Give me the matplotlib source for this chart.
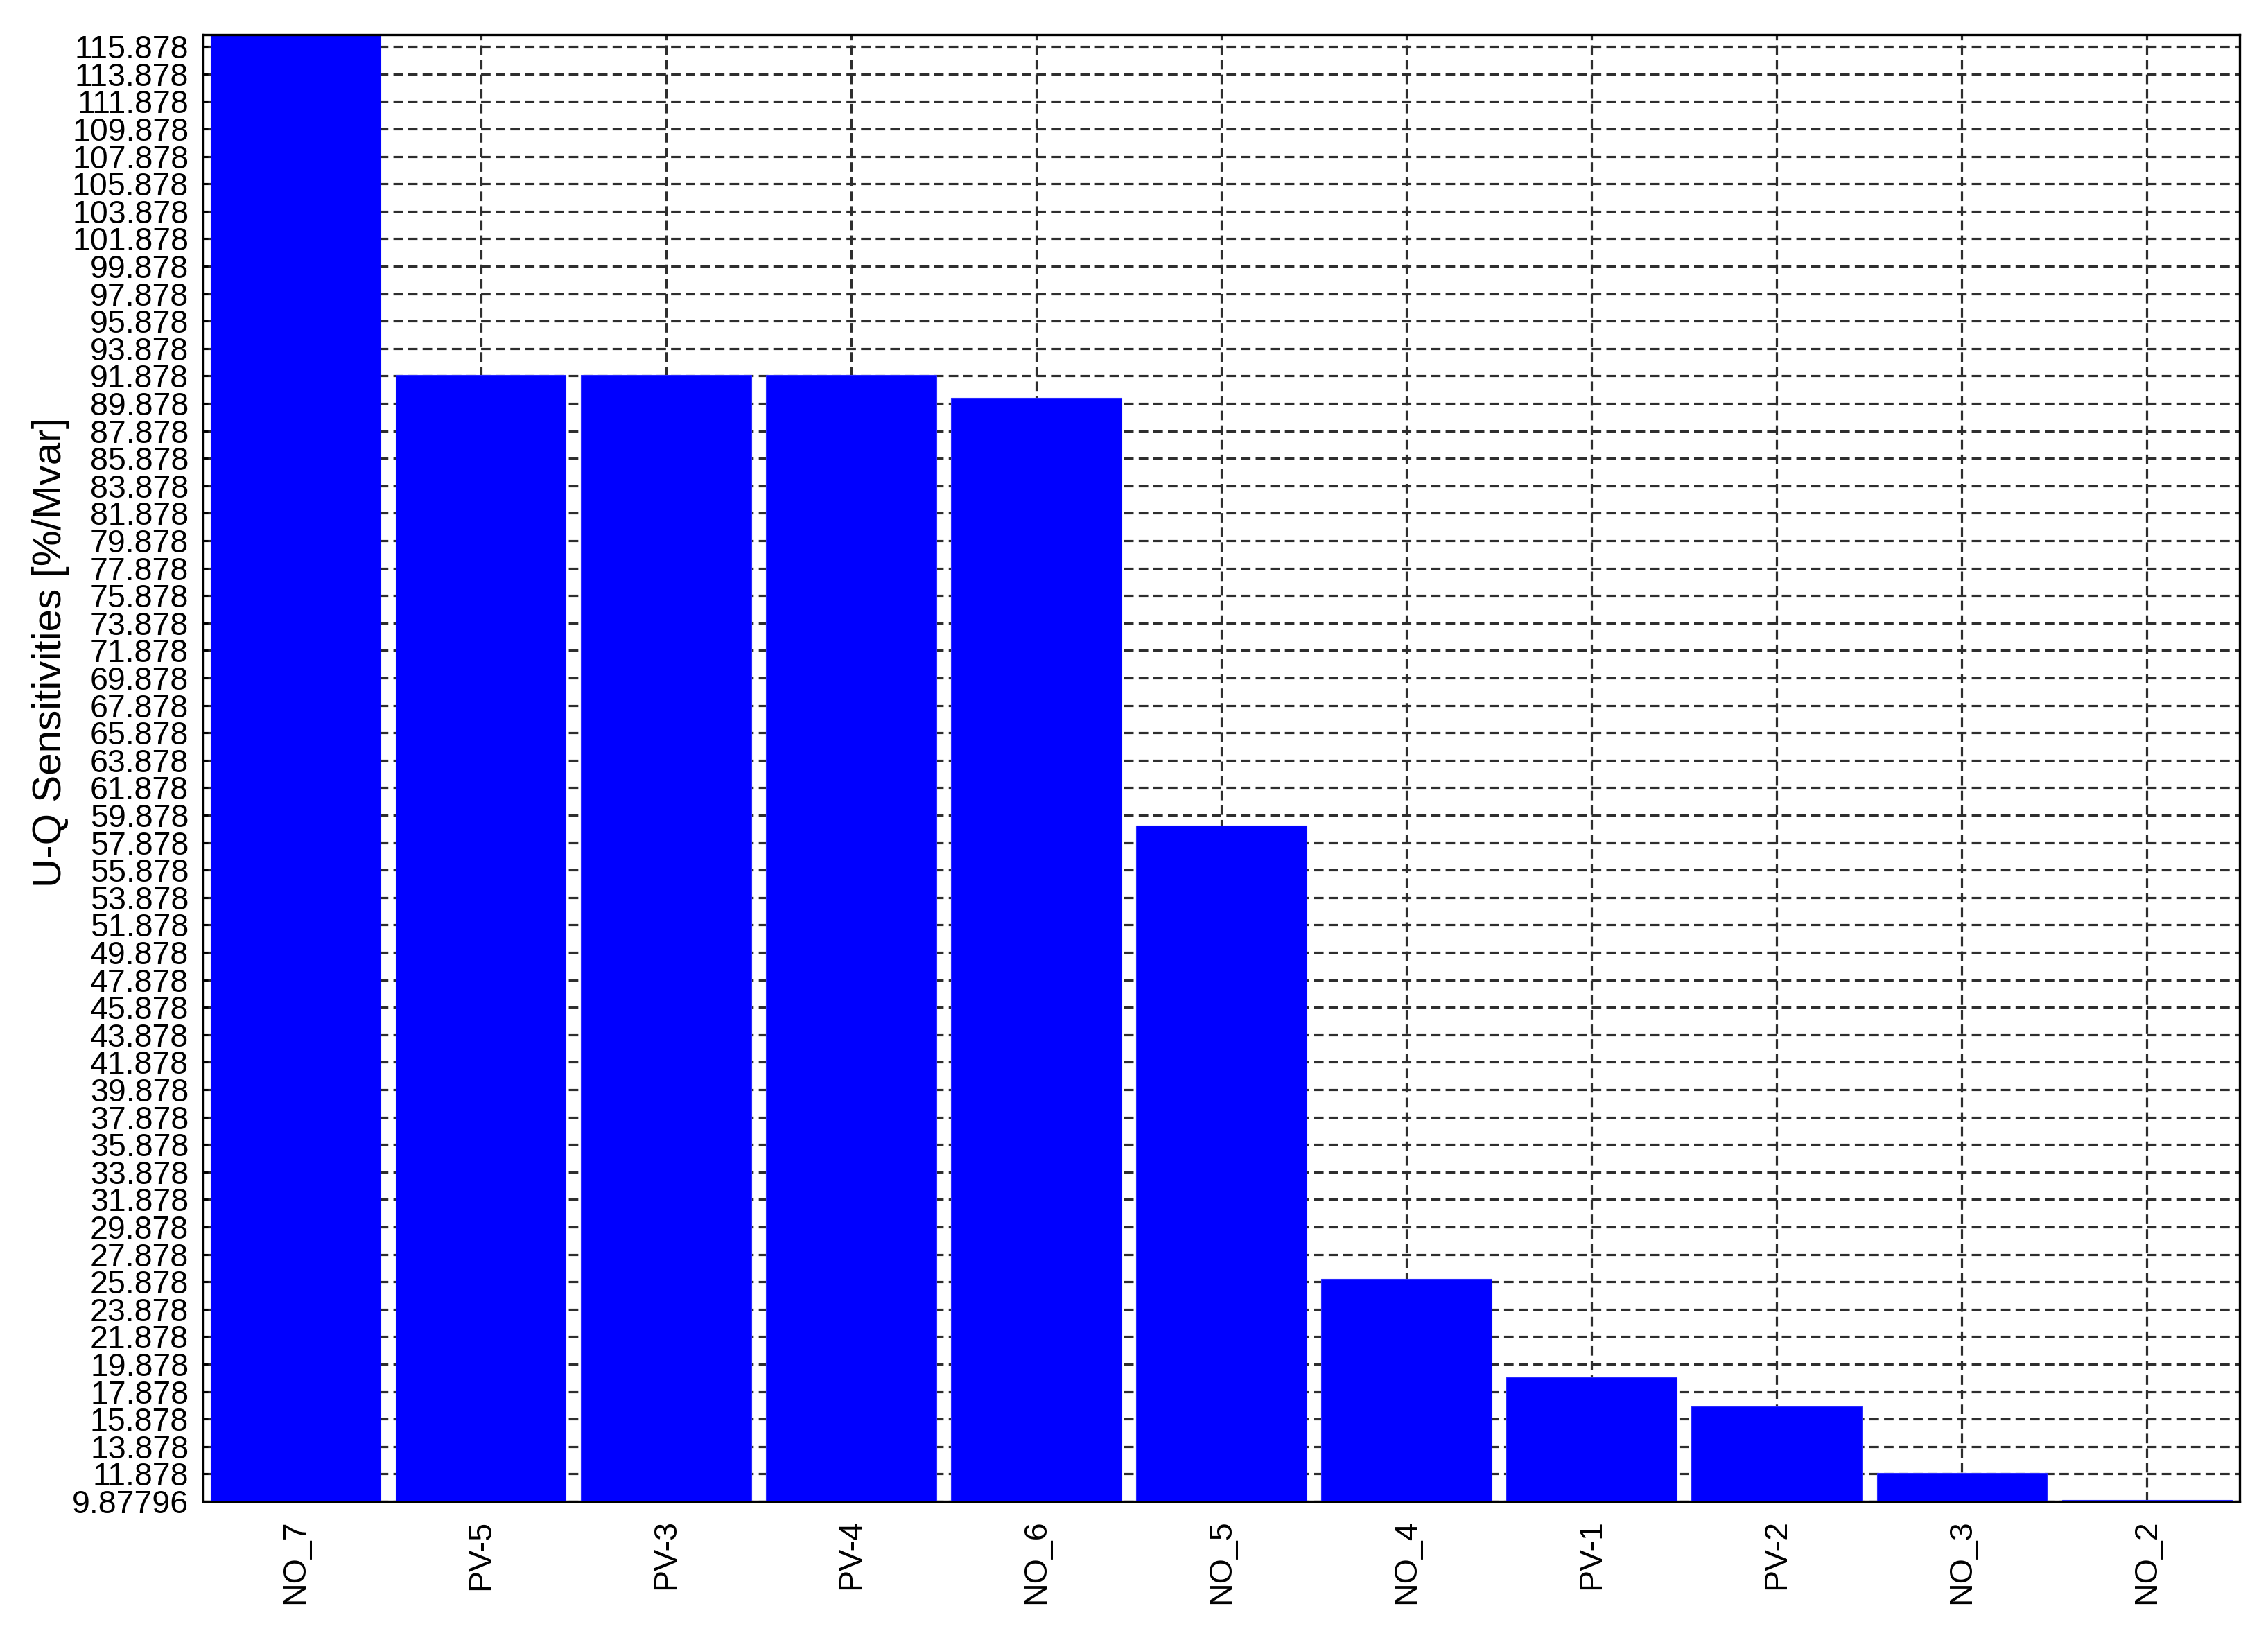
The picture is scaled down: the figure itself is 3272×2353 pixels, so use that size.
import numpy as np
import matplotlib
matplotlib.use("Agg")
import matplotlib.pyplot as plt

# data
labels = ["NO_7", "PV-5", "PV-3", "PV-4", "NO_6", "NO_5", "NO_4", "PV-1", "PV-2", "NO_3", "NO_2"]
values = [120.0, 91.95, 91.95, 91.95, 90.28, 59.13, 26.1, 18.94, 16.79, 11.95, 9.99]
y_min = 9.87796
y_top = 116.75
tick_vals = [y_min] + list(np.arange(11.878, 116.0, 2.0))
tick_text = ["9.87796"] + ["%.3f" % v for v in tick_vals[1:]]

plt.rcParams['font.family'] = ['Liberation Sans', 'DejaVu Sans']

fig = plt.figure(figsize=(32.73, 23.53), dpi=100)
ax = fig.add_axes([293 / 3273, 1 - 2166 / 2353, (3231 - 293) / 3273, (2166 - 50) / 2353])

x = np.arange(len(labels))
ax.bar(x, values, width=0.92, color="#0000ff", edgecolor="#2a2aff", linewidth=0.8, zorder=3)

ax.set_xlim(-0.5, len(labels) - 0.5)
ax.set_ylim(y_min, y_top)
ax.set_yticks(tick_vals)
ax.set_yticklabels(tick_text)
ax.set_xticks(x)
ax.set_xticklabels(labels, rotation=90)

ax.set_axisbelow(True)
ax.grid(True, color="#2e2e2e", linewidth=2.3, linestyle=(0, (4.3, 2.3)))

ax.tick_params(axis="y", direction="in", length=5, width=2, labelsize=33.5, pad=15, colors="black")
ax.tick_params(axis="x", length=0, labelsize=33.5, pad=19)
for name, s in ax.spines.items():
    s.set_linewidth(2.4)
    s.set_color("black")
    s.set_zorder(4)
ax.spines["bottom"].set_zorder(2.5)

fig.text(73 / 3273, 1 - 941 / 2353, "U-Q Sensitivities [%/Mvar]", rotation=90,
         ha="center", va="center", fontsize=42)

plt.savefig("out.png", dpi=100)
plt.close()
